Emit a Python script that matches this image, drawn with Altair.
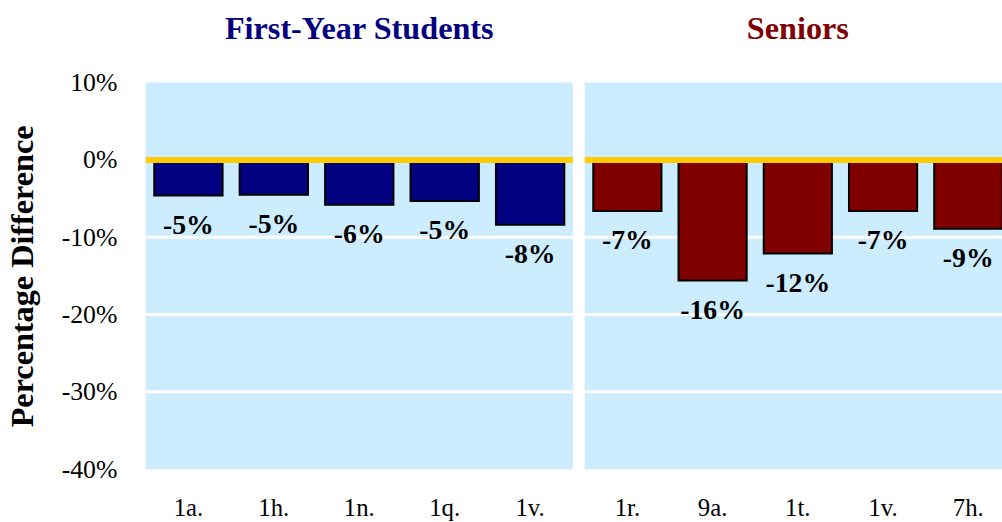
import altair as alt
import pandas as pd

# ---- data ----
fy_items = ["1a.", "1h.", "1n.", "1q.", "1v."]
fy_values = [-4.6, -4.5, -5.8, -5.3, -8.4]
fy_labels = ["-5%", "-5%", "-6%", "-5%", "-8%"]

sr_items = ["1r.", "9a.", "1t.", "1v.", "7h."]
sr_values = [-6.6, -15.6, -12.1, -6.6, -8.9]
sr_labels = ["-7%", "-16%", "-12%", "-7%", "-9%"]

grid_values = [-10, -20, -30]
y_ticks = [-40, -30, -20, -10, 0, 10]

FONT = "Liberation Serif"
BG = "#CCECFF"
GOLD = "#FFCC00"
H = 390


def panel(items, values, labels, color, title, width, title_offset, show_y=False):
    df = pd.DataFrame({"item": items, "value": values, "label": labels})
    gdf = pd.DataFrame({"g": grid_values})
    zdf = pd.DataFrame({"z": [0]})

    xscale = alt.Scale(domain=items, paddingInner=0.2, paddingOuter=0.1)
    yscale = alt.Scale(domain=[-40, 10], nice=False, zero=False)

    if show_y:
        yaxis = alt.Axis(
            title="Percentage Difference",
            values=y_ticks,
            labelExpr="datum.value + '%'",
            labelFont=FONT, labelFontSize=26, labelColor="black",
            labelPadding=29, ticks=False, domain=False, grid=False,
            titleFont=FONT, titleFontSize=32.5, titleFontWeight="bold",
            titleColor="black", titlePadding=22,
        )
    else:
        yaxis = None

    xaxis = alt.Axis(
        title=None, labelAngle=0, labelFont=FONT, labelFontSize=25,
        labelColor="black", labelPadding=27, ticks=False, domain=False,
        grid=False,
    )

    grid = alt.Chart(gdf).mark_rule(color="white", strokeWidth=3).encode(
        y=alt.Y("g:Q", scale=yscale, axis=yaxis),
        x=alt.value(0), x2=alt.value(width),
    )
    bars = alt.Chart(df).mark_bar(
        color=color, stroke="black", strokeWidth=2
    ).encode(
        x=alt.X("item:N", scale=xscale, axis=xaxis, sort=items),
        y=alt.Y("value:Q", scale=yscale),
        y2=alt.datum(0),
    )
    zero = alt.Chart(zdf).mark_rule(color=GOLD, strokeWidth=6).encode(
        y=alt.Y("z:Q", scale=yscale),
        x=alt.value(0), x2=alt.value(width),
    )
    text = alt.Chart(df).mark_text(
        font=FONT, fontSize=28, fontWeight="bold", color="black",
        baseline="top", dy=16.5,
    ).encode(
        x=alt.X("item:N", scale=xscale, sort=items),
        y=alt.Y("value:Q", scale=yscale),
        text="label:N",
    )
    return alt.layer(grid, bars, zero, text).properties(
        width=width, height=H,
        title=alt.TitleParams(
            text=title, color=color, font=FONT, fontSize=32.5,
            fontWeight="bold", anchor="middle", offset=title_offset,
            frame="group",
        ),
    )


left = panel(fy_items, fy_values, fy_labels, "#000080", "First-Year Students", 431, 24, show_y=True)
right = panel(sr_items, sr_values, sr_labels, "#800000", "Seniors", 430, 38)

chart = alt.hconcat(left, right, spacing=6).resolve_scale(
    y="independent", x="independent"
).properties(
    padding={"left": 6, "top": 10, "right": -12, "bottom": 0},
    background="white",
).configure_view(fill=BG, strokeWidth=0)

chart.save("out.html", embed_options={"renderer": "svg", "actions": False})
